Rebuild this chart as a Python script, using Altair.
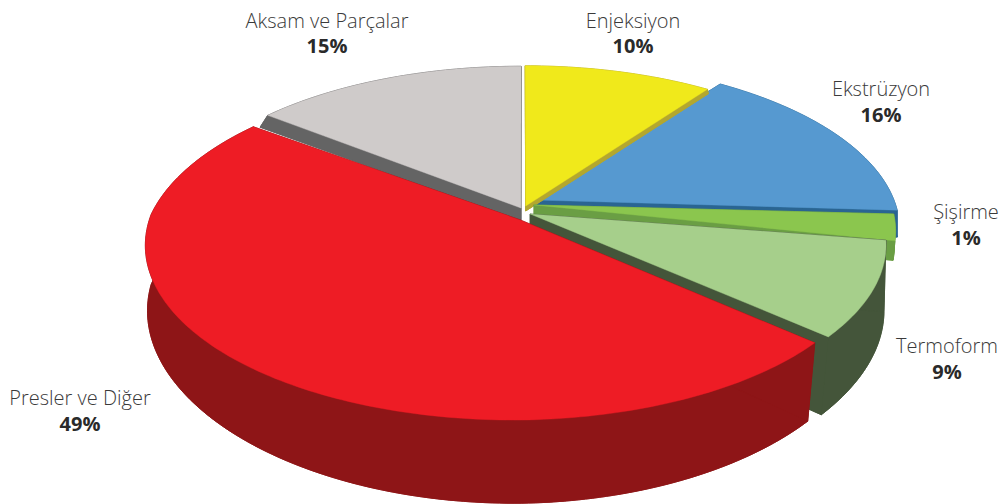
import math
import altair as alt
import numpy as np
import pandas as pd

names = ["Aksam ve Parçalar", "Enjeksiyon", "Ekstrüzyon", "Şişirme", "Termoform", "Presler ve Diğer"]
shares = [15, 10, 16, 1, 9, 49]
top_colors = ["#cfcbca", "#f0e91b", "#5699d0", "#8bc64e", "#a6cf8b", "#ee1c25"]
wall_colors = ["#646464", "#b3a72f", "#2a6592", "#6a9e44", "#44553a", "#8e1517"]
# slice edges: start (degrees clockwise from 12 o'clock) and sweep
starts = [-51.6, 0, 36.4, 93.1, 99, 131.8]
spans = [51.6, 35.7, 57.1, 9.1, 32.7, 175]

# drawing layout
X0, Y0, R, A, K = 522, 214, 372, 172.6, 0.158
draw_order = [0, 2, 1, 3, 4, 5]
apex = [(-0.003, -0.035), (0.01, -0.0465), (0.035, -0.082), (0.0325, -0.0526), (0.022, 0.0), (-0.005, 0.034)]
radii = [
    ([0, 1], [0.955, 0.955]),
    ([0, 1], [0.947, 0.947]),
    ([0, 1], [0.96, 0.979]),
    ([0, 1], [0.968, 0.968]),
    ([0, 1], [0.945, 0.962]),
    ([0, 0.27, 0.8, 1], [0.951, 0.97, 0.992, 0.974]),
]
depths = [13, 5, 27, 19, 70, 70]
wall_fx = [1.03, 1.005, 1.0, 1.0, 1.0, 1.0]
label_x = [327, 633, 881, 966, 947, 80]
name_y = [22, 22, 90, 213, 347, 399]
pct_y = [47, 47, 116, 239, 373, 425]


def project(u, v):
    d = 1 - K * v
    return X0 + R * u / d, Y0 + A * v / d, 1 / d


def arc(i):
    n = max(6, int(spans[i]))
    out = []
    for j in range(n + 1):
        f = j / n
        a = math.radians(starts[i] + spans[i] * f)
        r = float(np.interp(f, radii[i][0], radii[i][1]))
        out.append((apex[i][0] + r * math.sin(a), apex[i][1] - r * math.cos(a)))
    return out


def upper(p):
    return project(*p)[:2]


def lower(p, i):
    x, y, s = project(*p)
    return X0 + (x - X0) * wall_fx[i] * (1 - 0.036 * max(p[1], 0)), y + depths[i] * s


rows = []


def add(piece, color, width, pts):
    for j, p in enumerate(pts + pts[:1]):
        rows.append(dict(piece=piece, color=color, width=width, x=p[0], y=p[1], o=j))


for i in draw_order:
    curve = arc(i)
    c = apex[i]
    w = wall_colors[i]
    add(f"{i}-bottom", w, 0.8, [lower(c, i)] + [lower(p, i) for p in curve])
    add(f"{i}-arc", w, 0.8, [upper(p) for p in curve] + [lower(p, i) for p in reversed(curve)])
    for e in (curve[0], curve[-1]):
        add(f"{i}-edge{e[0]:.3f}", w, 0.8, [upper(c), upper(e), lower(e, i), lower(c, i)])
    add(f"{i}-top", top_colors[i], 0.4, [upper(c)] + [upper(p) for p in curve])

df = pd.DataFrame(rows)
x_scale = alt.Scale(domain=[8, 999], nice=False, zero=False)
y_scale = alt.Scale(domain=[504, 8], nice=False, zero=False)

layers = []
for piece, g in df.groupby("piece", sort=False):
    c = g["color"].iloc[0]
    layers.append(
        alt.Chart(g)
        .mark_line(fill=c, stroke=c, strokeWidth=float(g["width"].iloc[0]), clip=True)
        .encode(
            x=alt.X("x:Q", scale=x_scale, axis=None),
            y=alt.Y("y:Q", scale=y_scale, axis=None),
            order="o:Q",
        )
    )

labels = pd.DataFrame(dict(name=names, pct=[f"{s}%" for s in shares], lx=label_x, ny=name_y, py=pct_y))
FONT = "Open Sans"
t1 = alt.Chart(labels).mark_text(font=FONT, fontSize=20, color="#3a3a3a", fontWeight=300, align="center", baseline="middle").encode(
    x=alt.X("lx:Q", scale=x_scale, axis=None), y=alt.Y("ny:Q", scale=y_scale, axis=None), text="name:N")
t2 = alt.Chart(labels).mark_text(font=FONT, fontSize=20, color="#2a2a2a", fontWeight="bold", align="center", baseline="middle").encode(
    x=alt.X("lx:Q", scale=x_scale, axis=None), y=alt.Y("py:Q", scale=y_scale, axis=None), text="pct:N")

chart = alt.layer(*layers, t1, t2).properties(
    width=991, height=496, padding=0, background="white",
    autosize=alt.AutoSizeParams(type="none"),
).configure_view(stroke=None)
chart.save("out.html", embed_options={"renderer": "svg", "actions": False})
